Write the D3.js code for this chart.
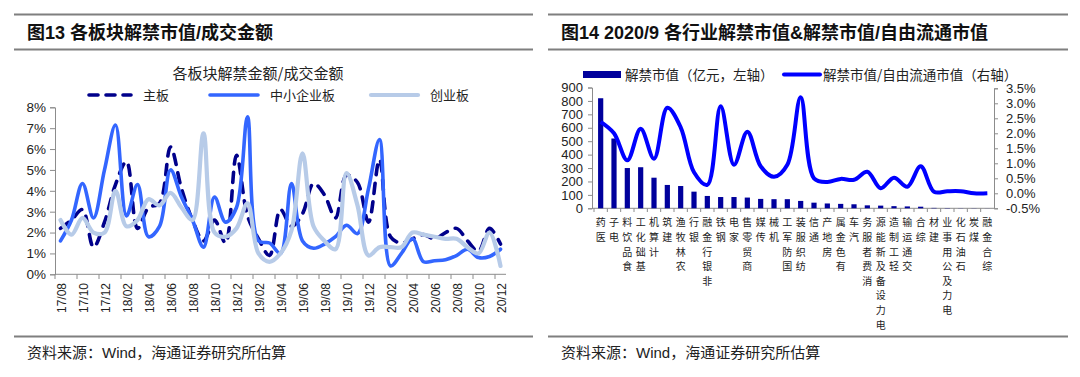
<!DOCTYPE html>
<html>
<head>
<meta charset="utf-8">
<script src="https://cdn.jsdelivr.net/npm/d3@7"></script>
<style>
  body { margin: 0; background: #fff; }
  svg { display: block; font-family: 'Liberation Sans', Arial, 'Noto Sans CJK SC', sans-serif; }
</style>
</head>
<body>
<svg width="1080" height="377"></svg>
<script>
// ---- chart 13 data: unlock value / turnover by board (%)
const months = [
  '17/08', '17/09', '17/10', '17/11', '17/12', '18/01', '18/02', '18/03', '18/04', '18/05', '18/06',
  '18/07', '18/08', '18/09', '18/10', '18/11', '18/12', '19/01', '19/02', '19/03', '19/04', '19/05',
  '19/06', '19/07', '19/08', '19/09', '19/10', '19/11', '19/12', '20/01', '20/02', '20/03', '20/04',
  '20/05', '20/06', '20/07', '20/08', '20/09', '20/10', '20/11', '20/12',
]
const mainBoard = [
  2.2, 2.6, 3.1, 1.3, 2.5, 4.3, 5.4, 2.2, 3.2, 3.4, 6.1, 4.1, 2.6, 1.6, 2.6, 1.5, 5.7, 2.8, 1.7, 0.9,
  3.1, 2.3, 2.9, 4.35, 3.8, 2.7, 4.75, 4.4, 2.5, 5.5, 1.8, 1.5, 1.7, 1.9, 1.7, 2.0, 2.2, 1.6, 1.1, 2.2, 1.45,
]
const smeBoard = [
  1.6, 2.6, 4.35, 2.7, 5.0, 7.15, 2.8, 4.3, 1.8, 2.3, 5.0, 3.7, 2.6, 1.3, 3.7, 2.5, 3.2, 7.55, 1.6, 1.5,
  1.0, 4.35, 1.6, 1.25, 1.45, 1.8, 2.35, 1.95, 4.1, 6.45, 0.4, 1.0, 1.7, 0.6, 0.65, 0.7, 0.9, 1.2, 0.8, 0.85, 1.2,
]
const gemBoard = [
  2.6, 1.9, 2.7, 2.0, 2.0, 4.0, 2.3, 2.6, 3.6, 3.3, 3.9, 3.2, 2.6, 6.75, 2.0, 1.8, 2.2, 3.4, 1.0, 0.6,
  1.0, 2.1, 5.8, 2.3, 1.6, 1.2, 4.85, 3.3, 0.9, 1.3, 1.3, 1.3, 2.0, 1.9, 1.8, 1.7, 1.7, 1.3, 1.0, 2.0, 0.4,
]
const boardNames = ['主板', '中小企业板', '创业板']
const pctTicks = [0, 1, 2, 3, 4, 5, 6, 7, 8]

// ---- chart 14 data: 2020/9 unlock by industry
const industries = [
  '医药', '电子', '食品饮料', '基础化工', '计算机', '建筑', '农林牧渔', '银行', '非银行金融', '钢铁',
  '家电', '商贸零售', '传媒', '机械', '国防军工', '纺织服装', '通信', '房地产', '有色金属', '汽车',
  '消费者服务', '电力设备及新能源', '轻工制造', '交通运输', '综合', '建材', '电力及公用事业', '石油石化', '煤炭', '综合金融',
]
const unlockValue = [
  820, 520, 300, 306, 228, 174, 166, 124, 92, 84, 84, 80, 70, 68, 68, 55, 42, 36, 33, 30,
  22, 20, 16, 14, 12, 3, 2, 1, 1, 0.5,
]
const unlockRatio = [
  2.38, 2.0, 1.1, 2.15, 1.15, 2.85, 2.2, 0.7, 0.28, 2.9, 0.95, 2.05, 0.9, 0.55, 0.95, 3.2, 0.5, 0.38, 0.48, 0.45,
  0.72, 0.17, 0.52, 0.22, 0.9, 0.05, 0.07, 0.07, 0.0, 0.0,
]
const valueTicks = [0, 100, 200, 300, 400, 500, 600, 700, 800, 900]
const ratioTicks = [-0.5, 0, 0.5, 1, 1.5, 2, 2.5, 3, 3.5]

const svg = d3.select('svg')
const cjk = "'Noto Sans CJK SC', sans-serif"
const ruleColor = '#7f7f7f'
const axisColor = '#8c8c8c'

// frame: rules, titles, source notes
const drawFrame = (x0, x1, title) => {
  ;[14.5, 49.5, 336.5].forEach((y) => {
    svg.append('line').attr('x1', x0).attr('x2', x1).attr('y1', y).attr('y2', y)
      .attr('stroke', ruleColor).attr('stroke-width', 2)
  })
  svg.append('text').attr('x', x0 + 13).attr('y', 38.5)
    .attr('font-size', 18).attr('font-weight', 'bold').attr('fill', '#111').text(title)
  svg.append('text').attr('x', x0 + 13).attr('y', 358)
    .attr('font-size', 15).attr('fill', '#222').text('资料来源：Wind，海通证券研究所估算')
}
drawFrame(14, 533, '图13 各板块解禁市值/成交金额')
drawFrame(548, 1068, '图14 2020/9 各行业解禁市值&解禁市值/自由流通市值')

// ---------- left chart ----------
const lx = d3.scaleBand().domain(months).range([55, 506])
const ly = d3.scaleLinear().domain([0, 8]).range([274.3, 107.3])

svg.append('text').attr('x', 258).attr('y', 79).attr('text-anchor', 'middle')
  .style('font-family', cjk).attr('font-size', 15).attr('fill', '#222').text('各板块解禁金额/成交金额')

const yAxisL = svg.append('g').attr('transform', 'translate(55,0)')
  .call(d3.axisLeft(ly).tickValues(pctTicks).tickFormat((d) => d + '%').tickSize(5).tickPadding(4))
yAxisL.selectAll('text').attr('font-size', 13.5).attr('fill', '#222')
  .style('font-family', "'Liberation Sans', Arial, sans-serif")
yAxisL.selectAll('line, path').attr('stroke', axisColor)

// category axis, ticks between categories every two months
const gx = svg.append('g')
gx.append('line').attr('x1', 55).attr('x2', 506).attr('y1', 274.3).attr('y2', 274.3).attr('stroke', axisColor)
months.forEach((m, i) => {
  if (i % 2) return
  gx.append('line').attr('x1', lx(m)).attr('x2', lx(m)).attr('y1', 274.3).attr('y2', 279).attr('stroke', axisColor)
  const cx = lx(m) + lx.bandwidth() / 2 + 1
  gx.append('text').attr('transform', `translate(${cx + 4.5},283) rotate(-90)`)
    .attr('text-anchor', 'end').attr('font-size', 12).attr('fill', '#222').text(m)
})

const lineL = (vals) =>
  d3.line().x((d, i) => lx(months[i]) + lx.bandwidth() / 2).y((d) => ly(d)).curve(d3.curveCatmullRom.alpha(0.5))(vals)

const boardStyles = [
  { vals: mainBoard, color: '#00008b', width: 3.6, dash: '10,8.5' },
  { vals: smeBoard, color: '#3366ff', width: 3.6, dash: null },
  { vals: gemBoard, color: '#b7cbe8', width: 4.2, dash: null },
]
boardStyles.forEach((s) => {
  svg.append('path').attr('d', lineL(s.vals)).attr('fill', 'none')
    .attr('stroke', s.color).attr('stroke-width', s.width)
    .attr('stroke-linecap', 'round').attr('stroke-linejoin', 'round')
    .attr('stroke-dasharray', s.dash)
})

// legend
const legendL = [
  { x: 87, len: 46 },
  { x: 208, len: 52 },
  { x: 369, len: 51 },
]
legendL.forEach((p, i) => {
  const s = boardStyles[i]
  svg.append('line').attr('x1', p.x + 2).attr('x2', p.x + p.len - 2).attr('y1', 95).attr('y2', 95)
    .attr('stroke', s.color).attr('stroke-width', s.width).attr('stroke-linecap', 'round')
    .attr('stroke-dasharray', s.dash ? '9,8' : null)
  svg.append('text').attr('x', p.x + p.len + 10).attr('y', 99.5).style('font-family', cjk)
    .attr('font-size', 13).attr('fill', '#222').text(boardNames[i])
})

// ---------- right chart ----------
const rx = d3.scaleBand().domain(industries).range([594, 994])
const ryL = d3.scaleLinear().domain([0, 900]).range([208.3, 87.5])
const ryR = d3.scaleLinear().domain([-0.5, 3.5]).range([208.3, 88.3])

const axL = svg.append('g').attr('transform', 'translate(592,0)')
  .call(d3.axisLeft(ryL).tickValues(valueTicks).tickSize(4).tickPadding(5))
const axR = svg.append('g').attr('transform', 'translate(994,0)')
  .call(d3.axisRight(ryR).tickValues(ratioTicks).tickFormat((d) => d.toFixed(1) + '%').tickSize(4).tickPadding(8))
;[axL, axR].forEach((a) => {
  a.selectAll('text').attr('font-size', 13).attr('fill', '#222')
    .style('font-family', "'Liberation Sans', Arial, sans-serif")
  a.selectAll('line, path').attr('stroke', axisColor)
})

svg.append('line').attr('x1', 592).attr('x2', 994).attr('y1', 208.3).attr('y2', 208.3).attr('stroke', axisColor)
industries.forEach((d) => {
  svg.append('line').attr('x1', rx(d)).attr('x2', rx(d)).attr('y1', 208.3).attr('y2', 212).attr('stroke', axisColor)
})

// stacked labels read upward from the bottom, last char sits against the axis
industries.forEach((name) => {
  const chars = Array.from(name)
  const cx = rx(name) + rx.bandwidth() / 2
  chars.forEach((c, k) => {
    svg.append('text').attr('x', cx).attr('y', 226.3 + (chars.length - 1 - k) * 14.6)
      .attr('text-anchor', 'middle').style('font-family', cjk).attr('font-size', 10).attr('fill', '#222').text(c)
  })
})

svg.append('g').selectAll('rect').data(unlockValue).join('rect')
  .attr('x', (d, i) => rx(industries[i]) + rx.bandwidth() / 2 - 2.6)
  .attr('width', 5.2)
  .attr('y', (d) => ryL(d))
  .attr('height', (d) => ryL(0) - ryL(d))
  .attr('fill', '#00009c')

const lineR = d3.line().x((d, i) => rx(industries[i]) + rx.bandwidth() / 2).y((d) => ryR(d))
  .curve(d3.curveCatmullRom.alpha(0.5))
svg.append('path').attr('d', lineR(unlockRatio)).attr('fill', 'none')
  .attr('stroke', '#0000ff').attr('stroke-width', 4).attr('stroke-linejoin', 'round')

// legend
svg.append('rect').attr('x', 583).attr('y', 71).attr('width', 38).attr('height', 7).attr('fill', '#00009c')
svg.append('text').attr('x', 625).attr('y', 79.5).style('font-family', cjk).attr('font-size', 13.5)
  .attr('fill', '#222').text('解禁市值（亿元，左轴）')
svg.append('line').attr('x1', 784).attr('x2', 820).attr('y1', 74.5).attr('y2', 74.5)
  .attr('stroke', '#0000ff').attr('stroke-width', 4).attr('stroke-linecap', 'round')
svg.append('text').attr('x', 823).attr('y', 79.5).style('font-family', cjk).attr('font-size', 13.5)
  .attr('fill', '#222').text('解禁市值/自由流通市值（右轴）')
</script>
</body>
</html>
